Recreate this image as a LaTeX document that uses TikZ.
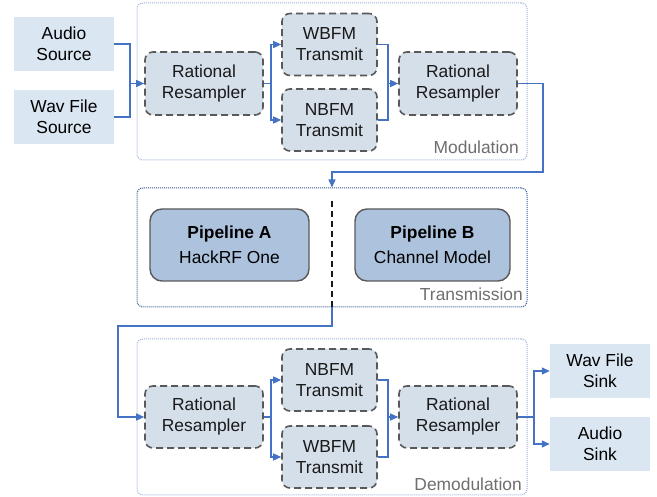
\documentclass[tikz,border=0pt]{standalone}
\usepackage{fontspec}
\setmainfont{Liberation Sans}
\usetikzlibrary{arrows.meta,calc}

\definecolor{flowblue}{HTML}{4472C4}
\definecolor{ioFill}{HTML}{DAE6F1}
\definecolor{blockFill}{HTML}{D5DFEA}
\definecolor{pipeFill}{HTML}{ADC2DD}
\definecolor{edgeGray}{HTML}{595959}
\definecolor{groupLight}{HTML}{9DB1D6}
\definecolor{groupDark}{HTML}{2F5597}
\definecolor{labelGray}{HTML}{6E6E6E}

\begin{document}
\begin{tikzpicture}[x=1pt,y=-1pt,
  font=\fontsize{17.4}{21}\selectfont,
  iobox/.style={fill=ioFill, draw=none, align=center, inner sep=0pt,
    minimum width=100pt, minimum height=54pt},
  block/.style={fill=blockFill, draw=edgeGray, line width=1.6pt,
    dash pattern=on 7pt off 4pt, rounded corners=8pt, align=center,
    inner sep=0pt, text=black!90},
  resamp/.style={block, minimum width=118pt, minimum height=63pt},
  fmbox/.style={block, minimum width=95pt, minimum height=62pt},
  pipe/.style={fill=pipeFill, draw=edgeGray, line width=1.4pt,
    rounded corners=12pt, align=center, inner sep=0pt,
    minimum height=72pt},
  group/.style={draw=groupLight, line width=1pt, dash pattern=on 1pt off 1pt,
    rounded corners=6pt, inner sep=0pt, minimum width=390pt},
  grouplabel/.style={text=labelGray, anchor=east, inner sep=0pt},
  link/.style={draw=flowblue, line width=1.4pt},
  arr/.style={link, -{Triangle[length=8pt,width=7pt]}},
]
\useasboundingbox (0,0) rectangle (657,497);

% group frames
\node[group, minimum height=157pt] (mod) at (332,81.5) {};
\node[group, draw=groupDark, minimum height=119pt] (trans) at (332,247.5) {};
\node[group, minimum height=156pt] (demod) at (332,417) {};
\node[grouplabel] (modlbl) at (519,147) {Modulation};
\node[grouplabel] (translbl) at (523,294) {Transmission};
\node[grouplabel] (demodlbl) at (522,484) {Demodulation};

% modulation stage
\node[iobox] (audio) at (64,44) {Audio\\Source};
\node[iobox] (wavsrc) at (64,117) {Wav File\\Source};
\node[resamp] (rr1) at (204,83.5) {Rational\\Resampler};
\node[fmbox] (wb1) at (329.5,44.5) {WBFM\\Transmit};
\node[fmbox] (nb1) at (329.5,120) {NBFM\\Transmit};
\node[resamp] (rr2) at (458,83.5) {Rational\\Resampler};

% transmission stage
\node[pipe, minimum width=159pt] (pa) at (229.5,245)
  {\textbf{Pipeline A}\\[4pt]HackRF One};
\node[pipe, minimum width=155pt] (pb) at (432.5,245)
  {\textbf{Pipeline B}\\[4pt]Channel Model};

% demodulation stage
\node[resamp, minimum height=62pt] (rr3) at (204,417) {Rational\\Resampler};
\node[fmbox] (nb2) at (329.5,380) {NBFM\\Transmit};
\node[fmbox] (wb2) at (329.5,457) {WBFM\\Transmit};
\node[resamp, minimum height=62pt] (rr4) at (458,417) {Rational\\Resampler};
\node[iobox] (wsink) at (600,371) {Wav File\\Sink};
\node[iobox] (asink) at (600,444) {Audio\\Sink};

% junction points
\coordinate (j1) at (130,83.5);
\coordinate (j2) at (271,83.5);
\coordinate (j3) at (388,83.5);
\coordinate (c1) at (543,172);
\coordinate (c2) at (332,326);
\coordinate (c3) at (118,417);
\coordinate (j4) at (271,417);
\coordinate (j5) at (388,417);
\coordinate (j6) at (534,417);

% divider between the two pipelines
\draw[black!90, line width=1.5pt, dash pattern=on 6pt off 4pt]
  (332,201) -- (trans.south);

% connectors, modulation
\draw[link] (audio.east) -| (j1);
\draw[link] (wavsrc.east) -| (j1);
\draw[arr] (j1) -- (rr1.west);
\draw[link] (rr1.east) -- (j2);
\draw[arr] (j2) |- (wb1.west);
\draw[arr] (j2) |- (nb1.west);
\draw[link] (wb1.east) -| (j3);
\draw[link] (nb1.east) -| (j3);
\draw[arr] (j3) -- (rr2.west);

% into and out of transmission
\draw[arr] (rr2.east) -| (c1) -| (trans.north);
\draw[arr] (trans.south) -- (c2) -| (c3) -- (rr3.west);

% connectors, demodulation
\draw[link] (rr3.east) -- (j4);
\draw[arr] (j4) |- (nb2.west);
\draw[arr] (j4) |- (wb2.west);
\draw[link] (nb2.east) -| (j5);
\draw[link] (wb2.east) -| (j5);
\draw[arr] (j5) -- (rr4.west);
\draw[link] (rr4.east) -- (j6);
\draw[arr] (j6) |- (wsink.west);
\draw[arr] (j6) |- (asink.west);
\end{tikzpicture}
\end{document}
